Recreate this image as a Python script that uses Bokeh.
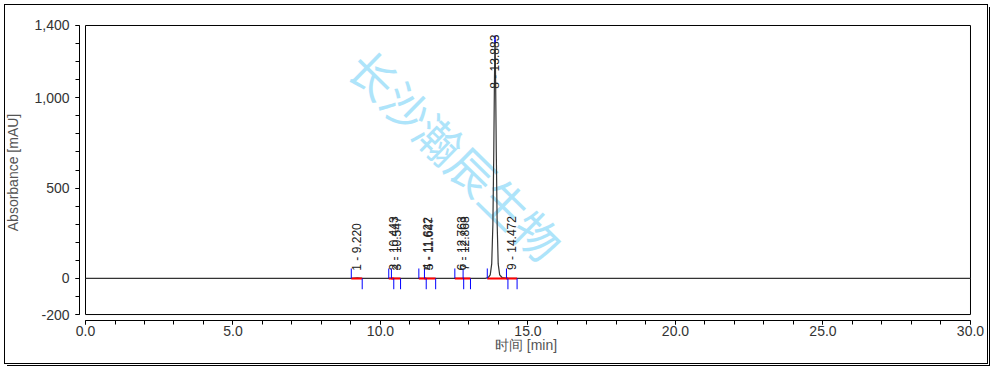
import numpy as np
from bokeh.plotting import figure
from bokeh.models import (FixedTicker, NumeralTickFormatter, Range1d, InlineStyleSheet)
from bokeh.core.properties import value
from bokeh.embed import file_html
from bokeh.resources import INLINE

# ---- data ----
trace_t = [0.0, 9.0, 9.22, 9.4, 13.55, 13.65, 13.72, 13.77, 13.81, 13.84, 13.86, 13.875,
           13.883, 13.89, 13.905, 13.925, 13.955, 13.99, 14.04, 14.12, 14.3, 30.0]
trace_y = [0.0, 0.0, 3.0, 0.0, 0.0, 4.0, 20.0, 80.0, 300.0, 700.0, 1050.0, 1260.0,
           1320.0, 1260.0, 1050.0, 700.0, 300.0, 80.0, 20.0, 5.0, 0.0, 0.0]

peak_no = [1, 2, 3, 4, 5, 6, 7, 8, 9]
peak_rt = [9.220, 10.443, 10.547, 11.622, 11.647, 12.763, 12.868, 13.883, 14.472]
peak_height = [3, 4, 4, 5, 5, 4, 4, 1320, 6]
peak_start = [9.01, 10.28, 10.37, 11.30, 11.49, 12.52, 12.80, 13.62, 14.27]
peak_end = [9.38, 10.45, 10.68, 11.55, 11.87, 12.82, 13.05, 14.32, 14.63]

x_ticks = [0, 5, 10, 15, 20, 25, 30]
y_ticks = [-200, 0, 500, 1000, 1400]
X_MIN, X_MAX = 0, 30
Y_MIN, Y_MAX = -200, 1400

watermark = "长沙瀚辰生物"

FONT = "Liberation Sans"

page_css = InlineStyleSheet(css="""
:host::before {
  content: ""; position: absolute; left: 4px; top: 4px; width: 982px; height: 358px;
  border: 1px solid #000; pointer-events: none; z-index: 10;
}
:host::after {
  content: ""; position: absolute; left: 7px; top: 7px; width: 982px; height: 358px;
  border-right: 1px solid #000; border-bottom: 1px solid #000; pointer-events: none; z-index: 10;
}
""")

p = figure(width=992, height=368, output_backend="svg", toolbar_location=None,
           x_range=Range1d(-0.2034, 30.068), y_range=Range1d(-233, 1405.5),
           min_border_left=79, min_border_right=20, min_border_top=24, min_border_bottom=48)
p.stylesheets = [page_css]
p.outline_line_color = None
p.xgrid.visible = False
p.ygrid.visible = False
p.background_fill_color = "white"
p.border_fill_color = "white"

# watermark
p.text(x=[12.58], y=[687], text=[watermark], angle=-0.775, text_align="center",
       text_baseline="middle", text_font=value("Noto Sans CJK SC"), text_font_size="46px",
       text_color="#aee4fa")

# plot box
p.quad(left=[X_MIN], right=[X_MAX], bottom=[Y_MIN], top=[Y_MAX], fill_color=None,
       line_color="black", line_width=1)

# trace
p.line(trace_t, trace_y, line_color="#333333", line_width=1.2)

# integration baselines (red) and peak markers (blue)
n = len(peak_no)
p.segment(x0=peak_start, y0=[0]*n, x1=peak_end, y1=[0]*n, line_color="red", line_width=2)
p.segment(x0=peak_start, y0=[0]*n, x1=peak_start, y1=[55]*n, line_color="blue", line_width=1)
p.segment(x0=peak_end, y0=[0]*n, x1=peak_end, y1=[-60]*n, line_color="blue", line_width=1)
main = int(np.argmax(peak_height))
p.segment(x0=[peak_rt[main]], y0=[peak_height[main] - 20], x1=[peak_rt[main]],
          y1=[peak_height[main] + 25], line_color="blue", line_width=1.5)

# peak labels
labels = [f"{k} - {rt:.3f}" for k, rt in zip(peak_no, peak_rt)]
label_base = [min(h + 40, 1050) for h in peak_height]
p.text(x=peak_rt, y=label_base, text=labels, angle=np.pi / 2, text_align="left",
       text_baseline="middle", text_font=value(FONT), text_font_size="12px",
       text_color="#222222")

# axes
xa = p.xaxis[0]
xa.ticker = FixedTicker(ticks=x_ticks, minor_ticks=list(range(0, 31)))
xa.formatter = NumeralTickFormatter(format="0.0")
xa.bounds = (X_MIN, X_MAX)
xa.axis_label = "时间 [min]"
ya = p.yaxis[0]
ya.ticker = FixedTicker(ticks=y_ticks, minor_ticks=list(range(-200, 1401, 100)))
ya.formatter = NumeralTickFormatter(format="0,0")
ya.bounds = (Y_MIN, Y_MAX)
ya.axis_label = "Absorbance [mAU]"
for ax in (xa, ya):
    ax.axis_line_color = "black"
    ax.major_tick_line_color = "black"
    ax.minor_tick_line_color = "black"
    ax.major_tick_out = 4
    ax.major_tick_in = 0
    ax.minor_tick_out = 4
    ax.minor_tick_in = 0
    ax.major_label_text_font = FONT
    ax.major_label_text_font_size = "14px"
    ax.major_label_text_color = "#333333"
    ax.axis_label_text_font = FONT
    ax.axis_label_text_font_size = "14px"
    ax.axis_label_text_font_style = "normal"
    ax.axis_label_text_color = "#555555"
xa.major_label_standoff = 1
xa.axis_label_standoff = -2
ya.major_label_standoff = 6
ya.axis_label_standoff = 10

open("out.html", "w").write(file_html(p, INLINE))
